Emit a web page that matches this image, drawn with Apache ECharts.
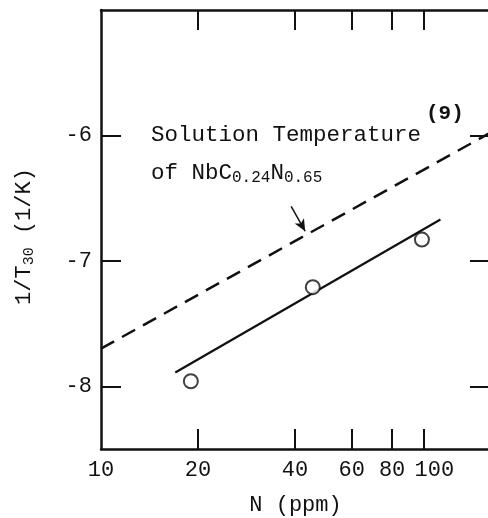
<!DOCTYPE html>
<html>
<head>
<meta charset="utf-8">
<script src="https://cdn.jsdelivr.net/npm/echarts@6/dist/echarts.min.js"></script>
<style>
  html, body { margin: 0; padding: 0; background: #fff; }
  #chart { width: 488px; height: 518px; }
</style>
</head>
<body>
<div id="chart"></div>
<script>
// Measured precipitation temperatures vs nitrogen content
const measuredN = [19, 45.4, 99];
const measuredInvT = [-7.96, -7.21, -6.83];

// Fitted line through the measurements (endpoints)
const fitN = [17, 113];
const fitInvT = [-7.89, -6.67];

// Solution temperature of NbC0.24N0.65, ref. (9) (endpoints)
const solN = [10, 161];
const solInvT = [-7.70, -5.98];

// Arrow pointing from the caption to the dashed line
const arrowN = [38.9, 43.0];
const arrowInvT = [-6.565, -6.764];

// Axis ticks and labels
const xTicks = [20, 40, 60, 80, 100];
const xLabels = [10, 20, 40, 60, 80, 100];
const yTicks = [-8, -7, -6];

const FONT = '"Liberation Mono", "DejaVu Sans Mono", monospace';
const INK = '#111';

const pairs = (xs, ys) => xs.map((x, i) => [x, ys[i]]);

const chart = echarts.init(document.getElementById('chart'), null, { renderer: 'canvas' });

const xBase = {
  type: 'log',
  logBase: 10,
  min: 10,
  max: 161,
  splitLine: { show: false },
  minorTick: { show: false },
  axisLine: { show: true, lineStyle: { color: INK, width: 2.5 } },
  axisTick: { show: true, inside: true, length: 20, lineStyle: { color: INK, width: 2 }, customValues: xTicks }
};

const yBase = {
  type: 'value',
  min: -8.5,
  max: -5,
  splitLine: { show: false },
  axisLine: { show: true, lineStyle: { color: INK, width: 2.5 } },
  axisTick: { show: true, inside: true, length: 20, lineStyle: { color: INK, width: 2 }, customValues: yTicks }
};

chart.setOption({
  backgroundColor: '#fff',
  animation: false,
  grid: { left: 101, top: 10, right: -2, bottom: 69, containLabel: false, outerBoundsMode: 'none' },
  xAxis: [
    Object.assign({}, xBase, {
      position: 'bottom',
      name: 'N (ppm)',
      nameLocation: 'middle',
      nameGap: 45,
      nameTextStyle: { fontFamily: FONT, fontSize: 22, color: INK },
      axisLabel: {
        show: true,
        customValues: xLabels,
        hideOverlap: false,
        margin: 10,
        fontFamily: FONT,
        fontSize: 22,
        color: INK,
        formatter: v => (v === 100 ? '{r|100}' : String(v)),
        rich: { r: { fontFamily: FONT, fontSize: 22, color: INK, padding: [0, 0, 0, 22] } }
      }
    }),
    Object.assign({}, xBase, {
      position: 'top',
      axisLabel: { show: false }
    })
  ],
  yAxis: [
    Object.assign({}, yBase, {
      position: 'left',
      name: '{m|1/T}{s|30}{m| (1/K)}',
      nameLocation: 'middle',
      nameGap: 64,
      nameRotate: 90,
      nameTextStyle: {
        padding: [0, 14, 0, 0],
        rich: {
          m: { fontFamily: FONT, fontSize: 22, color: INK, lineHeight: 26 },
          s: { fontFamily: FONT, fontSize: 15, color: INK, lineHeight: 26, verticalAlign: 'bottom' }
        }
      },
      axisLabel: { show: true, customValues: yTicks, margin: 9, fontFamily: FONT, fontSize: 22, color: INK }
    }),
    Object.assign({}, yBase, {
      position: 'right',
      axisLabel: { show: false }
    })
  ],
  series: [
    {
      type: 'line',
      data: pairs(solN, solInvT),
      symbol: 'none',
      lineStyle: { color: INK, width: 2.5, type: [15, 9] },
      z: 3
    },
    {
      type: 'line',
      data: pairs(fitN, fitInvT),
      symbol: 'none',
      lineStyle: { color: INK, width: 2.2 },
      z: 3,
      markLine: {
        silent: true,
        symbol: ['none', 'arrow'],
        symbolSize: [8, 12],
        label: { show: false },
        lineStyle: { color: INK, width: 1.5, type: 'solid' },
        data: [[
          { coord: [arrowN[0], arrowInvT[0]] },
          { coord: [arrowN[1], arrowInvT[1]] }
        ]]
      }
    },
    {
      type: 'scatter',
      data: pairs(measuredN, measuredInvT),
      symbol: 'circle',
      symbolSize: 14,
      itemStyle: { color: '#fff', borderColor: INK, borderWidth: 2 },
      z: 4
    }
  ],
  graphic: [
    {
      type: 'text',
      left: 151,
      top: 124,
      style: { text: 'Solution Temperature', fontFamily: FONT, fontSize: 22.5, fill: INK }
    },
    {
      type: 'text',
      left: 426,
      top: 103,
      style: { text: '(9)', fontFamily: FONT, fontSize: 21, fontWeight: 'bold', fill: INK }
    },
    {
      type: 'text',
      left: 151,
      top: 162,
      style: {
        text: '{a|of NbC}{b|0.24}{a|N}{b|0.65}',
        rich: {
          a: { fontFamily: FONT, fontSize: 22.5, fill: INK, lineHeight: 24 },
          b: { fontFamily: FONT, fontSize: 16, fill: INK, lineHeight: 24, verticalAlign: 'bottom' }
        }
      }
    }
  ]
});
</script>
</body>
</html>
